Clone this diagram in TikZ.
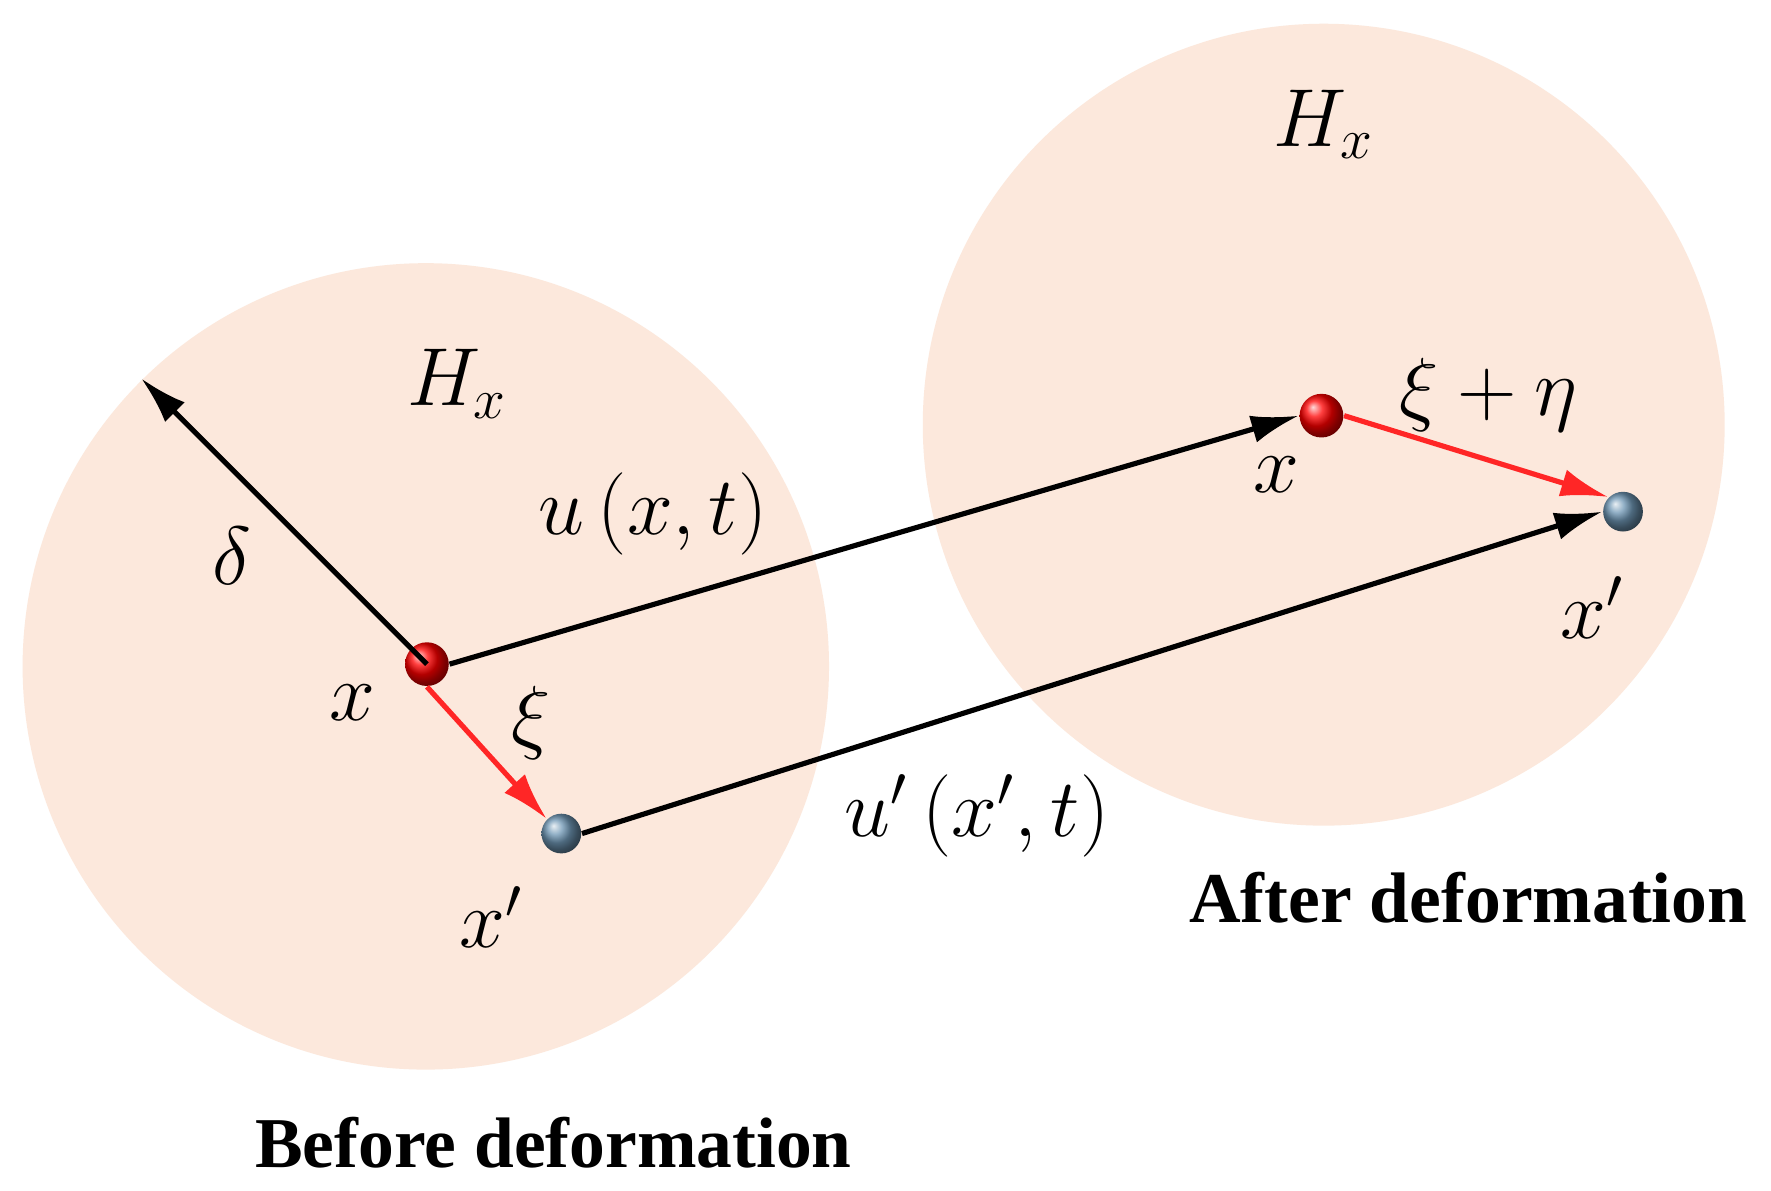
\documentclass[tikz,border=0pt]{standalone}
\usepackage{fontspec}
\setmainfont{Liberation Serif}
\usetikzlibrary{arrows.meta}
\definecolor{peach}{RGB}{252,232,220}
\definecolor{steel}{RGB}{110,150,180}
\tikzset{
 region/.style={fill=peach,draw=none},
 disp/.style={-{Latex[length=12pt,width=7pt]},line width=1.3pt},
 bond/.style={-{Latex[length=12pt,width=7pt]},line width=1.3pt,red!85!white},
 redball/.style={circle,minimum size=11pt,inner sep=0,shading=ball,ball color=red},
 blueball/.style={circle,minimum size=10pt,inner sep=0,shading=ball,ball color=steel},
 mlab/.style={font=\fontsize{22}{26}\selectfont\itshape},
 title/.style={font=\fontsize{18}{22}\selectfont\bfseries}
}
\begin{document}
\begin{tikzpicture}[x=0.01cm,y=-0.01cm]
\useasboundingbox (0,0) rectangle (1568,1054);
\fill[white] (0,0) rectangle (1568,1054);
\fill[region] (377,590) circle (357);
\fill[region] (1172,376) circle (355);
\node[redball] (a) at (378,588) {};
\node[blueball] (b) at (497,738) {};
\node[redball] (c) at (1170,368) {};
\node[blueball] (d) at (1437,453) {};
\coordinate (r) at (125,335);
\draw[disp] (a.center) -- (r);
\draw[disp] (a.east) -- (c.west);
\draw[disp] (b.east) -- (d.west);
\draw[bond] (a.south) -- (b.north west);
\draw[bond] (c.east) -- (d.north west);
\node[mlab] at (205,492) {$\delta$};
\node[mlab] at (405,340) {$H_x$};
\node[mlab] at (1172,110) {$H_x$};
\node[mlab] at (578,455) {$u\left(x,t\right)$};
\node[mlab] at (865,722) {$u'\left(x',t\right)$};
\node[mlab] at (470,640) {$\xi$};
\node[mlab] at (1318,350) {$\xi+\eta$};
\node[mlab] at (312,622) {$x$};
\node[mlab] at (435,812) {$x'$};
\node[mlab] at (1130,420) {$x$};
\node[mlab] at (1410,538) {$x'$};
\node[title] at (490,1012) {Before deformation};
\node[title] at (1300,795) {After deformation};
\end{tikzpicture}
\end{document}
